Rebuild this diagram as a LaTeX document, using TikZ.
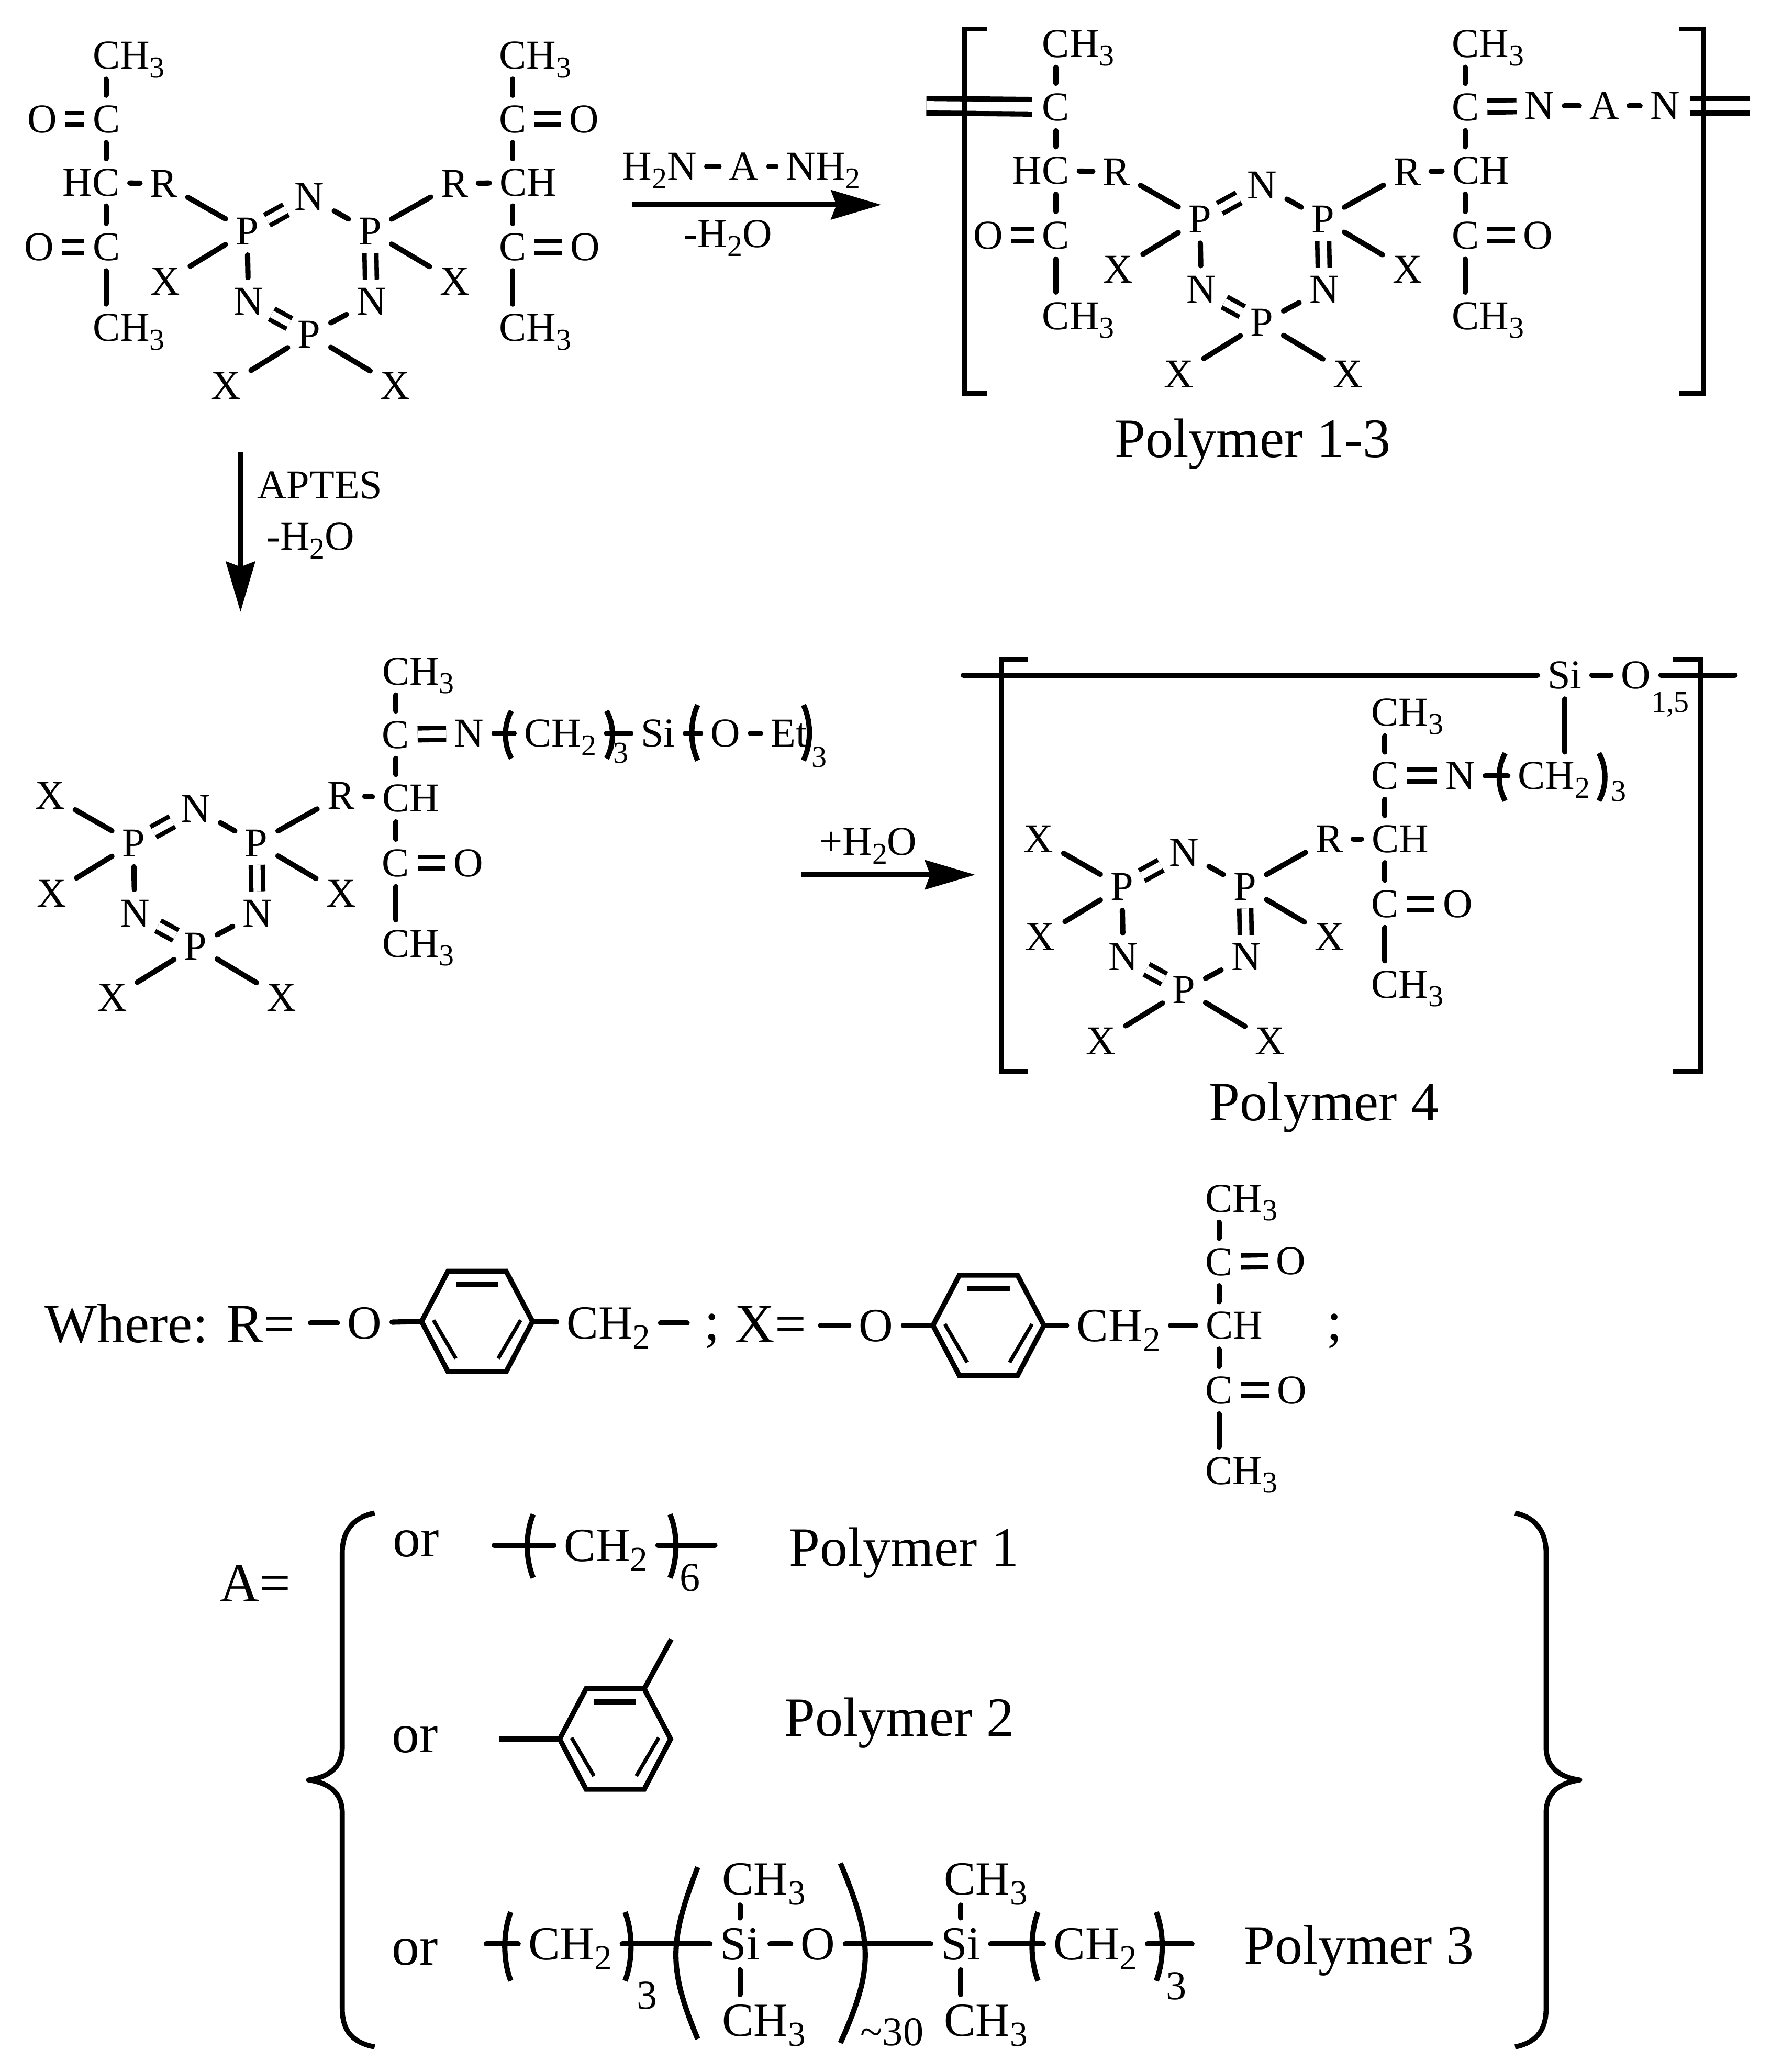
\documentclass[tikz,border=0pt]{standalone}
\usepackage{graphicx}
\usepackage{fontspec}
\setmainfont{Liberation Serif}
\usetikzlibrary{arrows.meta}
\tikzset{
  atom/.style={inner sep=7.5pt,font=\fontsize{31}{31}\selectfont,text height=20.5pt,text depth=0pt},
  atomb/.style={inner sep=7.5pt,font=\fontsize{36}{36}\selectfont,text height=24pt,text depth=0pt},
  bigtxt/.style={inner sep=0pt,font=\fontsize{42}{42}\selectfont,text height=28pt,text depth=0pt},
  subtxt/.style={inner sep=0pt,font=\fontsize{23}{23}\selectfont},
  subb/.style={inner sep=0pt,font=\fontsize{31}{31}\selectfont},
  bond/.style={line width=4pt,line cap=round},
  dbl/.style={line width=3.4pt,double,double distance=5.6pt,shorten >=-1.5pt,shorten <=-1.5pt},
  wdbl/.style={line width=4pt,double,double distance=7pt},
  paren/.style={line width=4pt},
  brk/.style={line width=3.8pt,miter limit=10},
  curl/.style={line width=3.8pt,line join=round},
  rxn/.style={line width=4pt,-{Stealth[length=38pt,width=22pt,inset=4pt]}},
  ringin/.style={line width=2.8pt}
}
\newcommand{\lo}[1]{\raisebox{-.21em}{\scalebox{.74}{#1}}}
\newcommand{\chthree}{CH\lo{3}}
\newcommand{\chtwo}{CH\lo{2}}
% parenthesis: x, y, half height
\newcommand{\opn}[3]{\draw[paren] ({#1+3},{#2-#3}) .. controls ({#1-3},{#2-#3*0.4}) and ({#1-3},{#2+#3*0.4}) .. ({#1+3},{#2+#3});}
\newcommand{\cls}[3]{\draw[paren] ({#1-3},{#2-#3}) .. controls ({#1+3},{#2-#3*0.4}) and ({#1+3},{#2+#3*0.4}) .. ({#1-3},{#2+#3});}
% phosphazene ring: prefix, left P, upper left label
\newcommand{\phring}[3]{
  \begin{scope}[shift={#2}]
    \node[atom] (#1pa) at (0,0) {P};
    \node[atom] (#1nt) at (47,-26) {N};
    \node[atom] (#1pb) at (93,0) {P};
    \node[atom] (#1nr) at (94,53) {N};
    \node[atom] (#1pc) at (47,78) {P};
    \node[atom] (#1nl) at (1,53) {N};
    \node[atom] (#1ul) at (-63,-36) {#3};
    \node[atom] (#1r) at (157,-36) {R};
    \node[atom] (#1xa) at (-62,38) {X};
    \node[atom] (#1xb) at (157,38) {X};
    \node[atom] (#1xc) at (-16,117) {X};
    \node[atom] (#1xd) at (112,117) {X};
    \draw[dbl] (#1pa) -- (#1nt);
    \draw[bond] (#1nt) -- (#1pb);
    \draw[dbl] (#1pb) -- (#1nr);
    \draw[bond] (#1nr) -- (#1pc);
    \draw[dbl] (#1pc) -- (#1nl);
    \draw[bond] (#1nl) -- (#1pa);
    \draw[bond] (#1ul) -- (#1pa);
    \draw[bond] (#1r) -- (#1pb);
    \draw[bond] (#1xa) -- (#1pa);
    \draw[bond] (#1xb) -- (#1pb);
    \draw[bond] (#1xc) -- (#1pc);
    \draw[bond] (#1xd) -- (#1pc);
  \end{scope}
}
% chain with the C on the right of CH: prefix, (C column, CH row)
\newcommand{\armR}[2]{
  \begin{scope}[shift={#2}]
    \node[atom] (#1ct) at (0,-48) {C};
    \node[atom] (#1met) at (17,-96) {\chthree};
    \node[atom] (#1ch) at (11.5,0) {CH};
    \node[atom] (#1cb) at (0,49) {C};
    \node[atom] (#1ob) at (55,49) {O};
    \node[atom] (#1meb) at (17,110) {\chthree};
    \draw[bond] (#1ct) -- (#1ct |- #1met.south);
    \draw[bond] (#1ct) -- (#1ct |- #1ch.north);
    \draw[bond] (#1cb) -- (#1cb |- #1ch.south);
    \draw[dbl] (#1cb) -- (#1ob);
    \draw[bond] (#1cb) -- (#1cb |- #1meb.north);
  \end{scope}
}
% same chain, C on the right of HC
\newcommand{\armL}[2]{
  \begin{scope}[shift={#2}]
    \node[atom] (#1ct) at (0,-48) {C};
    \node[atom] (#1met) at (17,-96) {\chthree};
    \node[atom] (#1ch) at (-11.5,0) {HC};
    \node[atom] (#1cb) at (0,49) {C};
    \node[atom] (#1ob) at (-51,49) {O};
    \node[atom] (#1meb) at (17,110) {\chthree};
    \draw[bond] (#1ct) -- (#1ct |- #1met.south);
    \draw[bond] (#1ct) -- (#1ct |- #1ch.north);
    \draw[bond] (#1cb) -- (#1cb |- #1ch.south);
    \draw[dbl] (#1cb) -- (#1ob);
    \draw[bond] (#1cb) -- (#1cb |- #1meb.north);
  \end{scope}
}
% benzene ring: prefix, centre
\newcommand{\benz}[2]{
  \begin{scope}[shift={#2}]
    \coordinate (#1w) at (-42,0);
    \coordinate (#1nw) at (-22,-38);
    \coordinate (#1ne) at (22,-38);
    \coordinate (#1e) at (42,0);
    \coordinate (#1se) at (22,38);
    \coordinate (#1sw) at (-22,38);
    \draw[line width=3.8pt,line join=miter] (#1w) -- (#1nw) -- (#1ne) -- (#1e) -- (#1se) -- (#1sw) -- cycle;
    \draw[line width=3.8pt] (-16,-28) -- (16,-28);
    \draw[ringin] (33,-1) -- (16,28);
    \draw[ringin] (-33,-1) -- (-16,28);
  \end{scope}
}
\begin{document}
\begin{tikzpicture}[x=1pt,y=-1pt]
  \useasboundingbox (0,0) rectangle (1340,1568);

  % starting compound
  \phring{a}{(187,175)}{R}
  \armL{al}{(80.5,138)}
  \armR{ar}{(388,138)}
  \node[atom] (aot) at (32,90) {O};
  \node[atom] (aor) at (442,90) {O};
  \draw[dbl] (alct) -- (aot);
  \draw[dbl] (arct) -- (aor);
  \draw[bond] (aul) -- (alch);
  \draw[bond] (ar) -- (arch);

  % first reaction
  \node[atom] (hna) at (499,126) {H\lo{2}N};
  \node[atom] (aa) at (563,126) {A};
  \node[atom] (hnb) at (623,126) {NH\lo{2}};
  \draw[bond] (hna) -- (aa);
  \draw[bond] (aa) -- (hnb);
  \coordinate (ra) at (478,155);
  \coordinate (rb) at (667,155);
  \draw[rxn] (ra) -- (rb);
  \node[atom] (wa) at (551,177) {-H\lo{2}O};

  % polymer 1-3
  \phring{b}{(908,166)}{R}
  \armL{bl}{(799,129)}
  \armR{br}{(1109,129)}
  \node[atom] (bna) at (1165,80) {N};
  \node[atom] (baa) at (1214,80) {A};
  \node[atom] (bnb) at (1260,80) {N};
  \coordinate (bst) at (701,80);
  \coordinate (ben) at (1324,80);
  \draw[bond] (baa) -- (bna);
  \draw[bond] (baa) -- (bnb);
  \draw[dbl] (brct) -- (bna);
  \draw[wdbl] (bst) -- (blct);
  \draw[wdbl] (bnb) -- (ben);
  \draw[bond] (bul) -- (blch);
  \draw[bond] (br) -- (brch);
  \draw[brk] (747,22) -- (730,22) -- (730,298) -- (747,298);
  \draw[brk] (1271,22) -- (1289,22) -- (1289,298) -- (1271,298);
  \node[bigtxt] (pa) at (948,332) {Polymer 1-3};

  % second reaction
  \coordinate (rc) at (182,342);
  \coordinate (rd) at (182,463);
  \draw[rxn,line width=3.4pt] (rc) -- (rd);
  \node[atom] (ap) at (242,367) {APTES};
  \node[atom] (wb) at (235,406) {-H\lo{2}O};

  % silane compound
  \phring{c}{(101,638)}{X}
  \armR{cr}{(299.5,604)}
  \node[atom] (cn) at (355,555) {N};
  \node[atom] (cch) at (424,555) {\chtwo};
  \node[atom] (csi) at (498,555) {Si};
  \node[atom] (co) at (549,555) {O};
  \node[atom] (cet) at (597,555) {Et};
  \draw[dbl] (crct) -- (cn);
  \draw[bond] (cn) -- (cch);
  \draw[bond] (cch) -- (csi);
  \draw[bond] (csi) -- (co);
  \draw[bond] (co) -- (cet);
  \draw[bond] (cr) -- (crch);
  \opn{384}{556}{18}
  \cls{462}{556}{18}
  \opn{525}{554.5}{21}
  \cls{611}{554.5}{21}
  \node[subtxt] (cs) at (470,570) {3};
  \node[subtxt] (ct) at (620,573) {3};

  % third reaction
  \coordinate (re) at (606,662);
  \coordinate (rf) at (738,662);
  \draw[rxn] (re) -- (rf);
  \node[atom] (wc) at (657,637) {+H\lo{2}O};

  % polymer 4
  \phring{d}{(849,671)}{X}
  \armR{dr}{(1048,635)}
  \node[atom] (dn) at (1105,587) {N};
  \node[atom] (dch) at (1176,587) {\chtwo};
  \node[atom] (dsi) at (1184,511) {Si};
  \node[atom] (do) at (1238,511) {O};
  \coordinate (dst) at (729,511);
  \coordinate (den) at (1313,511);
  \draw[dbl] (drct) -- (dn);
  \draw[bond] (dn) -- (dch);
  \draw[bond] (dr) -- (drch);
  \draw[bond] (dst) -- (dsi);
  \draw[bond] (dsi) -- (do);
  \draw[bond] (do) -- (den);
  \draw[bond] (dsi) -- (dsi |- dch.north);
  \opn{1136}{588}{18}
  \cls{1213}{588}{18}
  \node[subtxt] (ds) at (1225,599) {3};
  \node[subtxt] (dt) at (1264,533) {1,5};
  \draw[brk] (778,499) -- (758,499) -- (758,811) -- (778,811);
  \draw[brk] (1266,499) -- (1287,499) -- (1287,811) -- (1266,811);
  \node[bigtxt] (pd) at (1002,834) {Polymer 4};

  % R and X
  \node[bigtxt] (wh) at (128.5,1002) {Where: R=};
  \coordinate (wfa) at (235,1001);
  \node[atomb] (woa) at (276,1001) {O};
  \benz{ra}{(361,1000)}
  \node[atomb] (wca) at (460.5,1001) {\chtwo};
  \coordinate (wfb) at (520,1001);
  \node[bigtxt] (sa) at (539,1000) {;};
  \draw[bond] (wfa) -- (woa);
  \draw[bond] (woa) -- (raw);
  \draw[bond] (rae) -- (wca);
  \draw[bond] (wca) -- (wfb);
  \node[bigtxt] (wx) at (583,1002) {X=};
  \coordinate (wfc) at (621,1003);
  \node[atomb] (wob) at (663,1003) {O};
  \benz{rb}{(748,1003)}
  \node[atomb] (wcb) at (846.5,1003) {\chtwo};
  \armR{xr}{(922.5,1003)}
  \node[atom] (xo) at (977,954) {O};
  \node[bigtxt] (sb) at (1010,1000) {;};
  \draw[bond] (wfc) -- (wob);
  \draw[bond] (wob) -- (rbw);
  \draw[bond] (rbe) -- (wcb);
  \draw[bond] (wcb) -- (xrch);
  \draw[dbl] (xrct) -- (xo);

  % A
  \node[bigtxt] (aq) at (193,1198) {A=};
  \draw[curl] (283.5,1145) .. controls (268,1148) and (259,1158) .. (259,1175) -- (259,1322)
    .. controls (259,1338) and (248,1345) .. (233.5,1347) .. controls (248,1349) and (259,1356) .. (259,1372)
    -- (259,1520) .. controls (259,1538) and (268,1546) .. (283.5,1549);
  \draw[curl] (1146.5,1145) .. controls (1161,1148) and (1170,1158) .. (1170,1175) -- (1170,1322)
    .. controls (1170,1338) and (1181,1345) .. (1195.5,1347) .. controls (1181,1349) and (1170,1356) .. (1170,1372)
    -- (1170,1520) .. controls (1170,1538) and (1161,1546) .. (1146.5,1549);

  % polymer 1
  \node[bigtxt] (ora) at (315,1164) {or};
  \coordinate (fa) at (374,1169.5);
  \node[atomb] (ea) at (458.5,1169.5) {\chtwo};
  \coordinate (fb) at (541,1169.5);
  \draw[bond] (fa) -- (ea);
  \draw[bond] (ea) -- (fb);
  \opn{400.5}{1170}{24}
  \cls{510}{1170}{24}
  \node[subb] (es) at (522,1194) {6};
  \node[bigtxt] (pe) at (684,1171) {Polymer 1};

  % polymer 2
  \node[bigtxt] (orb) at (314,1312) {or};
  \benz{rc}{(465.5,1316)}
  \coordinate (fc) at (378,1316);
  \coordinate (fd) at (508,1240.5);
  \draw[line width=3.8pt] (rcw) -- (fc);
  \draw[line width=3.8pt] (rcne) -- (fd);
  \node[bigtxt] (pf) at (680.5,1300) {Polymer 2};

  % polymer 3
  \node[bigtxt] (orc) at (314,1473) {or};
  \coordinate (fe) at (368,1471);
  \node[atomb] (ga) at (431.5,1471) {\chtwo};
  \node[atomb] (gb) at (560,1471) {Si};
  \node[atomb] (gc) at (619,1471) {O};
  \node[atomb] (gd) at (727,1471) {Si};
  \node[atomb] (ge) at (829,1471) {\chtwo};
  \coordinate (ff) at (902,1471);
  \node[atomb] (gf) at (578,1422) {\chthree};
  \node[atomb] (gg) at (578,1529) {\chthree};
  \node[atomb] (gh) at (746,1422) {\chthree};
  \node[atomb] (gi) at (746,1529) {\chthree};
  \draw[bond] (fe) -- (ga);
  \draw[bond] (ga) -- (gb);
  \draw[bond] (gb) -- (gc);
  \draw[bond] (gc) -- (gd);
  \draw[bond] (gd) -- (ge);
  \draw[bond] (ge) -- (ff);
  \draw[bond] (gb) -- (gb |- gf.south);
  \draw[bond] (gb) -- (gb |- gg.north);
  \draw[bond] (gd) -- (gd |- gh.south);
  \draw[bond] (gd) -- (gd |- gi.north);
  \opn{383.5}{1473}{26}
  \cls{476}{1473}{26}
  \opn{782.5}{1473}{26}
  \cls{878}{1473}{26}
  \draw[paren] (528,1413) .. controls (506,1470) and (506,1490) .. (528,1543);
  \draw[paren] (636,1410) .. controls (661,1470) and (661,1490) .. (636,1546);
  \node[subb] (gs) at (489.5,1510) {3};
  \node[subb] (gt) at (675,1538) {\textasciitilde30};
  \node[subb] (gu) at (890,1503) {3};
  \node[bigtxt] (pg) at (1028.5,1472) {Polymer 3};
\end{tikzpicture}
\end{document}
